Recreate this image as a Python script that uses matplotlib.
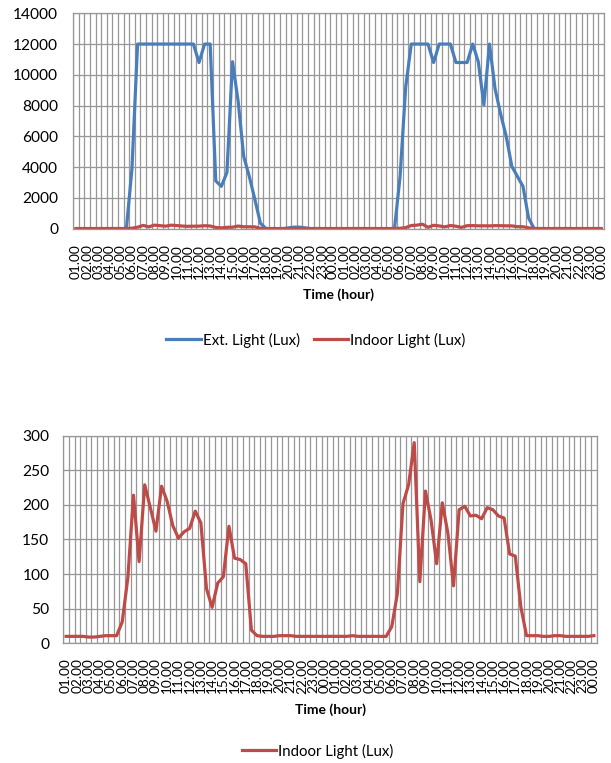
"""Exterior vs indoor light level over two days (half-hour samples)."""

import matplotlib
matplotlib.use("Agg")
import matplotlib.pyplot as plt
from matplotlib.lines import Line2D

plt.rcParams["font.family"] = ["Lato", "DejaVu Sans"]

# ---------------------------------------------------------------------------
# Data: one sample every 30 min, 01.00 on day 1 to 00.00 on day 2
# ---------------------------------------------------------------------------
hour_labels = ["%02d.00" % (h % 24) for h in list(range(1, 25)) + list(range(1, 25))]

ext_light = [
    0, 0, 0, 0, 0, 0, 0, 0, 0, 0,
    3900, 12000, 12000, 12000, 12000, 12000, 12000, 12000, 12000, 12000,
    12000, 12000, 10800, 12000, 12000, 3100, 2750, 3650, 10850, 8300,
    4700, 3400, 1900, 350, 0, 0, 0, 0, 50, 100,
    100, 50, 0, 0, 0, 0, 0, 0, 0, 0,
    0, 0, 0, 0, 0, 0, 0, 0, 3400, 9200,
    12000, 12000, 12000, 12000, 10800, 12000, 12000, 12000, 10800, 10800,
    10800, 12000, 10850, 8050, 12000, 9100, 7450, 6000, 4050, 3400,
    2750, 700, 0, 0, 0, 0, 0, 0, 0, 0,
    0, 0, 0, 0, 0,
]

indoor_light = [
    10, 10, 10, 10, 9, 9, 10, 11, 11, 11,
    31, 95, 214, 118, 229, 196, 162, 227, 205, 170,
    152, 161, 166, 191, 174, 79, 52, 87, 96, 169,
    123, 121, 115, 19, 11, 10, 10, 10, 11, 11,
    11, 10, 10, 10, 10, 10, 10, 10, 10, 10,
    10, 11, 10, 10, 10, 10, 10, 10, 24, 72,
    202, 229, 290, 89, 220, 178, 115, 203, 159, 83,
    193, 198, 184, 185, 180, 196, 193, 184, 181, 129,
    126, 52, 11, 11, 11, 10, 10, 11, 11, 10,
    10, 10, 10, 10, 11,
]

BLUE = "#4a7ebb"
RED = "#be4b48"
GRID = "#979797"


def style_axes(ax, ymax, ystep, ypad):
    n = len(ext_light)
    ax.set_xlim(-0.5, n - 0.5)
    ax.set_ylim(0, ymax)
    ax.set_yticks(range(0, ymax + 1, ystep))
    # category axis: gridlines between categories, a label every hour
    ax.set_xticks([k + 0.5 for k in range(-1, n)], minor=True)
    ax.set_xticks(range(0, n, 2))
    ax.set_xticklabels(hour_labels[:len(range(0, n, 2))], rotation=90)
    ax.grid(True, which="minor", axis="x", color=GRID, lw=0.9)
    ax.grid(True, which="major", axis="y", color=GRID, lw=0.9)
    ax.set_axisbelow(True)
    ax.tick_params(which="both", length=0)
    ax.tick_params(axis="y", labelsize=11.2, pad=ypad)
    ax.tick_params(axis="x", labelsize=9.8, pad=11)
    for s in ax.spines.values():
        s.set_color(GRID)
        s.set_linewidth(0.9)
    ax.set_xlabel("Time (hour)", fontsize=10, fontweight="bold", labelpad=7)


fig = plt.figure(figsize=(6.11, 7.63), dpi=100)

# top: exterior + indoor
ax1 = fig.add_axes([0.12, 0.7003, 0.8685, 0.2823])
x = range(len(ext_light))
ax1.plot(x, ext_light, color=BLUE, lw=2.3, solid_joinstyle="round")
ax1.plot(x, indoor_light, color=RED, lw=2.3, solid_joinstyle="round")
style_axes(ax1, 14000, 2000, 11)

handles = [Line2D([], [], color=BLUE, lw=2.3), Line2D([], [], color=RED, lw=2.3)]
fig.legend(handles, ["Ext. Light (Lux)", "Indoor Light (Lux)"],
           loc="center", bbox_to_anchor=(0.517, 1 - 340 / 763), ncol=2,
           frameon=False, fontsize=10.8, handlelength=2.3, handletextpad=0.15,
           columnspacing=0.9)

# bottom: indoor only
ax2 = fig.add_axes([0.1036, 0.1569, 0.873, 0.2721])
ax2.plot(x, indoor_light, color=RED, lw=2.3, solid_joinstyle="round")
style_axes(ax2, 300, 50, 10)

fig.legend([Line2D([], [], color=RED, lw=2.3)], ["Indoor Light (Lux)"],
           loc="center", bbox_to_anchor=(0.52, 1 - 751 / 763),
           frameon=False, fontsize=10.8, handlelength=2.3, handletextpad=0.15)

fig.savefig("out.png", dpi=100)
